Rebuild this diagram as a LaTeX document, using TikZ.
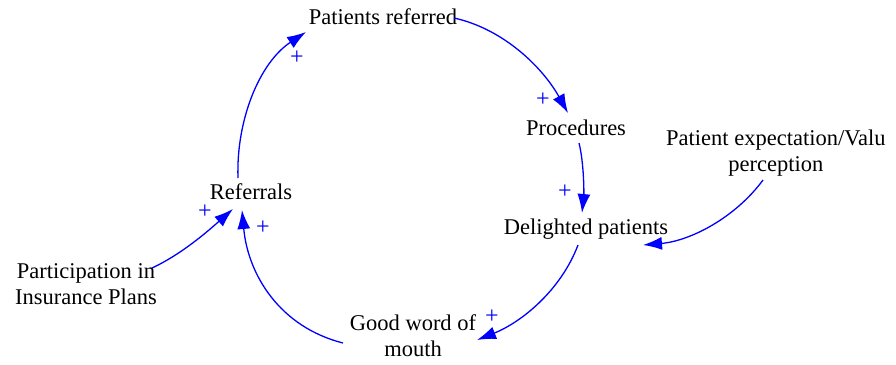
\documentclass[tikz,border=0pt]{standalone}
\usepackage{fontspec}
\setmainfont{LiberationSerif}[Extension=.ttf, UprightFont=*-Regular, BoldFont=*-Bold]
\usetikzlibrary{arrows.meta}
\definecolor{linkblue}{RGB}{0,0,255}
\tikzset{
  var/.style={inner sep=0pt, align=center, font=\rmfamily\fontsize{22.5}{26}\selectfont, text=black},
  link/.style={draw=linkblue, line width=1.3pt, -{Latex[length=19pt,width=13pt]}},
  pol/.style={inner sep=0pt, text=linkblue, font=\rmfamily\fontsize{24}{24}\selectfont}
}
\begin{document}
\begin{tikzpicture}[x=1pt,y=-1pt]
\useasboundingbox (0,0) rectangle (896,364);
% variables
\node[var] (pr) at (383,17) {Patients referred};
\node[var] (proc) at (576,128) {Procedures};
\node[var] (del) at (586,229) {Delighted patients};
\node[var] (ref) at (251,192) {Referrals};
\node[var] (part) at (86,284) {Participation in\\Insurance Plans};
\node[var] (good) at (413,336) {Good word of\\mouth};
\node[var, anchor=west] (exp) at (666,153) {Patient expectation/Valu\\perception};
% connector end points
\coordinate (s1) at (238,178); \coordinate (e1) at (306,32);
\coordinate (s2) at (454,18);  \coordinate (e2) at (568,113);
\coordinate (s3) at (579,143); \coordinate (e3) at (582,213);
\coordinate (s4) at (763,180); \coordinate (e4) at (643,245);
\coordinate (s5) at (578,245); \coordinate (e5) at (477,340);
\coordinate (s6) at (343,343); \coordinate (e6) at (242,210);
\coordinate (s7) at (152,268); \coordinate (e7) at (233,209);
% connectors
\draw[link] (s1) .. controls (236,121) and (259,63) .. (e1);
\draw[link] (s2) .. controls (504,29) and (543,68) .. (e2);
\draw[link] (s3) .. controls (584,163) and (584,193) .. (e3);
\draw[link] (s4) .. controls (735,218) and (690,241) .. (e4);
\draw[link] (s5) .. controls (561,290) and (522,322) .. (e5);
\draw[link] (s6) .. controls (280,327) and (248,275) .. (e6);
\draw[link] (s7) .. controls (182,254) and (208,231) .. (e7);
% polarities
\node[pol] (p1) at (297,58) {+};
\node[pol] (p2) at (543,100) {+};
\node[pol] (p3) at (565,192) {+};
\node[pol] (p4) at (492,317) {+};
\node[pol] (p5) at (263,228) {+};
\node[pol] (p6) at (205,212) {+};
\end{tikzpicture}
\end{document}
